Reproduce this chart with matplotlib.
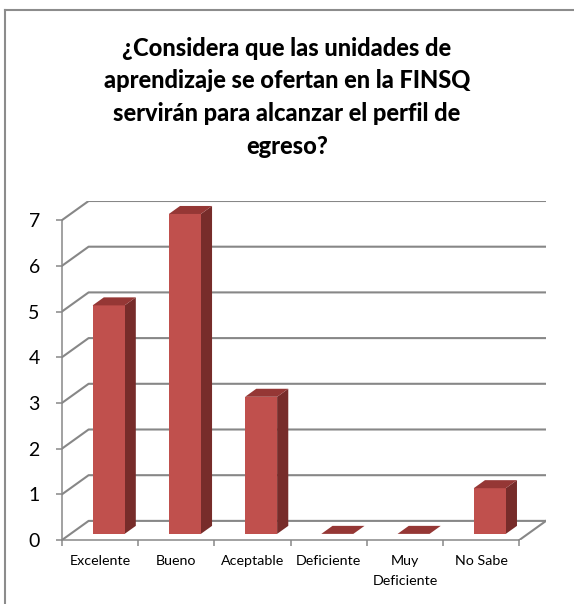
import matplotlib
matplotlib.use("Agg")
import matplotlib.pyplot as plt
from matplotlib.patches import Polygon, Rectangle
from matplotlib.lines import Line2D

# Survey answers
categories = ["Excelente", "Bueno", "Aceptable", "Deficiente", "Muy\nDeficiente", "No Sabe"]
counts = [5, 7, 3, 0, 0, 1]
y_ticks = [0, 1, 2, 3, 4, 5, 6, 7]
title = ("¿Considera que las unidades de\naprendizaje se ofertan en la FINSQ\n"
         "servirán para alcanzar el perfil de\negreso?")

FONT = ["Lato", "DejaVu Sans"]
W, H, DPI = 574, 604, 100

# oblique depth of the plot box, in data units
DX = 0.349
DY = 0.418
# bar footprint inside each category slot (width and depth fractions)
BX0, BX1 = 0.29, 0.71
BD0, BD1 = 0.32, 0.74

FRONT = "#C0504D"
TOP = "#953735"
SIDE = "#772C2A"
GRID = "#878787"

fig = plt.figure(figsize=(W / DPI, H / DPI), dpi=DPI)
fig.patch.set_facecolor("white")

# outer chart frame (only top and left edges fall inside the image)
fig.lines.append(Line2D([5 / W, 1.0], [1 - 10 / H, 1 - 10 / H], transform=fig.transFigure,
                        color="#8C8C8C", lw=1.5))
fig.lines.append(Line2D([5 / W, 5 / W], [0.0, 1 - 10 / H], transform=fig.transFigure,
                        color="#8C8C8C", lw=1.5))

ax = fig.add_axes([62 / W, 64 / H, 484 / W, 339 / H])
ax.set_xlim(0, len(categories) + DX)
ax.set_ylim(0, max(y_ticks) + DY)
ax.patch.set_visible(False)

for s in ["top", "right"]:
    ax.spines[s].set_visible(False)
for s in ["left", "bottom"]:
    ax.spines[s].set_color(GRID)
    ax.spines[s].set_linewidth(1.1)
ax.spines["left"].set_bounds(0, max(y_ticks))
ax.spines["bottom"].set_bounds(0, len(categories))

ax.set_yticks(y_ticks)
ax.set_yticklabels([str(t) for t in y_ticks], fontsize=14, family=FONT)
ax.tick_params(axis="y", length=4, width=1.1, color=GRID, pad=12)

n = len(categories)
ax.set_xticks(range(n + 1))
ax.set_xticklabels([])
ax.set_xticks([i + 0.5 for i in range(n)], minor=True)
ax.set_xticklabels(categories, minor=True, fontsize=10.3, family=FONT, linespacing=1.75)
ax.tick_params(axis="x", which="major", length=4, width=1.1, color=GRID)
ax.tick_params(axis="x", which="minor", length=0, pad=11)
for lbl in ax.get_xticklabels(minor=True):
    lbl.set_verticalalignment("top")

# side wall and back wall gridlines
for v in y_ticks:
    ax.add_line(Line2D([0, DX, n + DX], [v, v + DY, v + DY], color=GRID, lw=1.5, zorder=1))
# right edge of the floor
ax.add_line(Line2D([n, n + DX], [0, DY], color=GRID, lw=1.5, zorder=1))

# 3D-looking columns
for i, v in enumerate(counts):
    x0 = i + BX0 + BD0 * DX
    x1 = i + BX1 + BD0 * DX
    y0 = BD0 * DY
    ox = (BD1 - BD0) * DX
    oy = (BD1 - BD0) * DY
    top = [(x0, v + y0), (x1, v + y0), (x1 + ox, v + y0 + oy), (x0 + ox, v + y0 + oy)]
    if v > 0:
        ax.add_patch(Polygon([(x1, y0), (x1 + ox, y0 + oy), (x1 + ox, v + y0 + oy), (x1, v + y0)],
                             closed=True, facecolor=SIDE, edgecolor="none", zorder=3))
        ax.add_patch(Rectangle((x0, y0), x1 - x0, v, facecolor=FRONT, edgecolor="none", zorder=4))
    ax.add_patch(Polygon(top, closed=True, facecolor=TOP, edgecolor="none", zorder=4))

fig.text(287 / W, 1 - 37 / H, title, ha="center", va="top", fontsize=17,
         fontweight=900, family=FONT, linespacing=1.5)

fig.savefig("out.png", dpi=DPI, facecolor="white")
